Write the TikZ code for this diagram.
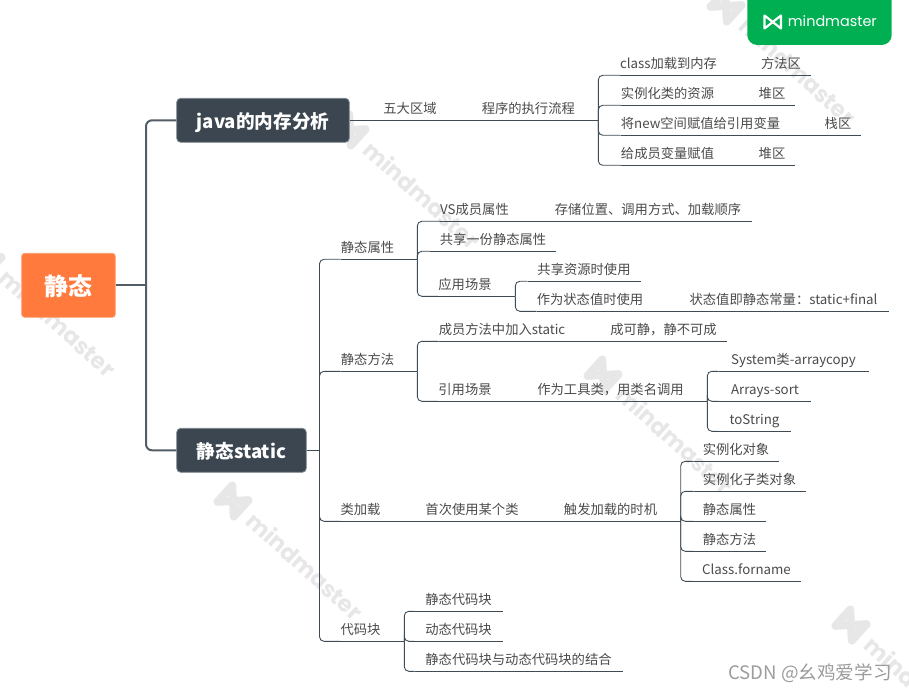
\documentclass[tikz,border=0pt]{standalone}
\usepackage{fontspec}
\setmainfont{Noto Sans CJK SC}
\newfontfamily\brandfont{Poppins}
\usepackage{tikz}
\usetikzlibrary{positioning}

\definecolor{inkline}{HTML}{3F4B55}
\definecolor{inktext}{HTML}{4A4A4A}
\definecolor{boxfill}{HTML}{3C4650}
\definecolor{boxedge}{HTML}{7F888F}
\definecolor{rootfill}{HTML}{FF7A3C}
\definecolor{rootedge}{HTML}{FF9D70}
\definecolor{badgefill}{HTML}{00AF52}
\definecolor{wmgray}{HTML}{E7E7E7}
\definecolor{csdngray}{HTML}{9C9C9C}

\begin{document}
\begin{tikzpicture}[x=1pt, y=-1pt,
        rootbox/.style={rectangle, draw=rootedge, fill=rootfill, rounded corners=3pt, line width=0.8pt, minimum width=93.6, minimum height=64, text height=24pt, text depth=3pt, text=white, font=\fontsize{24}{28}\selectfont\bfseries},
        mainbox/.style={rectangle, draw=boxedge, fill=boxfill, rounded corners=4pt, line width=0.8pt, minimum height=44, text height=19pt, text depth=3pt, text=white, font=\fontsize{18.6}{22}\selectfont\bfseries},
        link/.style={draw=inkline, line width=0.9pt},
        bracket/.style={link, rounded corners=4.5pt},
        spine/.style={draw=inkline!90!white, line width=2pt, rounded corners=6pt},
        topic/.style={anchor=south, inner xsep=0pt, inner ysep=4pt, text height=11pt, text depth=3pt, text=inktext, font=\fontsize{13.3}{16}\selectfont,
            append after command={(\tikzlastnode.south west) edge[link] (\tikzlastnode.south east)}},
        wmark/.pic={
            \draw[wmgray, line width=8pt, line join=round, line cap=round] (-11,11) -- (-11,-11) -- (11,11) -- (11,-11) -- cycle;
            \node[transform shape, anchor=west, inner sep=0pt, text=wmgray, font=\brandfont\bfseries\fontsize{22.8}{26}\selectfont] (#1) at (23,0) {mindmaster};
        }]
        \useasboundingbox (0,0) rectangle (909,692);

        % Watermarks and badge
        \begin{scope}
            \clip (0,0) rectangle (909,692);
            \pic[rotate=-42] at (726,6) {wmark=wma};
            \pic[rotate=-42] at (350,130) {wmark=wmb};
            \pic[rotate=-42] at (-14,258) {wmark=wmc};
            \pic[rotate=-42] at (233,501) {wmark=wmd};
            \pic[rotate=-42] at (603,375) {wmark=wme};
            \pic[rotate=-42] at (851,625) {wmark=wmf};
            \node[rectangle, fill=badgefill, rounded corners=10pt, minimum width=144.4, minimum height=65] (badge) at (819.5,12.5) {};
        \end{scope}
        \draw[white, line width=2.2pt, line join=round, line cap=round] (764.5,28.5) -- (764.5,15.5) -- (781,28.5) -- (781,15.5) -- cycle;
        \node[anchor=west, inner sep=0pt, text=white, font=\brandfont\fontsize{14.4}{18}\selectfont] (brand) at (787.7,21.5) {mindmaster};
        \node[text=csdngray, font=\fontsize{18.6}{22}\selectfont] (csdn) at (810,673) {CSDN @幺鸡爱学习};

        % Root and main topics
        \node[rootbox] (root) at (68.5,285.3) {静态};
        \node[mainbox, minimum width=172.6] (java) at (263,120.3) {java的内存分析};
        \node[mainbox, minimum width=129.6] (jingtai) at (241.5,450.3) {静态static};
        \coordinate (hub) at (146,285.3);
        \draw[spine] (java.west) -| (hub) |- (jingtai.west);
        \draw[spine, line width=2.4pt] (root.east) -- (hub);

        % java branch
        \node[topic] (wuda) at (410,120.3) {五大区域};
        \node[topic] (liucheng) at (528.3,120.3) {程序的执行流程};
        \coordinate (lchub) at (598.3,120.3);
        \node[topic] (classjz) at (668.5,75.3) {class加载到内存};
        \node[topic, minimum width=59.4] (fangfa) at (781,75.3) {方法区};
        \node[topic] (shili) at (667.5,105.3) {实例化类的资源};
        \node[topic, minimum width=44.6] (duia) at (772,105.3) {堆区};
        \node[topic] (jiang) at (700.5,135.3) {将new空间赋值给引用变量};
        \node[topic, minimum width=45.4] (zhan) at (838,135.3) {栈区};
        \node[topic] (gei) at (667.5,165.3) {给成员变量赋值};
        \node[topic, minimum width=44.6] (duib) at (772,165.3) {堆区};

        \draw[link] (java.east) -- (wuda.south west);
        \draw[link] (wuda.south east) -- (liucheng.south west);
        \draw[link] (liucheng.south east) -- (lchub);
        \draw[bracket] (lchub) |- (classjz.south west);
        \draw[bracket] (lchub) |- (shili.south west);
        \draw[bracket] (lchub) |- (jiang.south west);
        \draw[bracket] (lchub) |- (gei.south west);
        \draw[link] (classjz.south east) -- (fangfa.south west);
        \draw[link] (shili.south east) -- (duia.south west);
        \draw[link] (jiang.south east) -- (zhan.south west);
        \draw[link] (gei.south east) -- (duib.south west);

        % static branch, second level
        \coordinate (trunk) at (319.5,450.3);
        \node[topic] (sxing) at (367.5,259.3) {静态属性};
        \node[topic] (sfang) at (367.5,371.3) {静态方法};
        \node[topic] (ljz) at (360.5,521.3) {类加载};
        \node[topic] (dmk) at (360.5,641.3) {代码块};
        \draw[link] (jingtai.east) -- (trunk);
        \draw[bracket] (trunk) |- (sxing.south west);
        \draw[bracket] (trunk) |- (sfang.south west);
        \draw[bracket] (trunk) |- (ljz.south west);
        \draw[bracket] (trunk) |- (dmk.south west);

        % static attributes
        \coordinate (sxhub) at (417.3,259.3);
        \node[topic] (vs) at (474.5,221.3) {VS成员属性};
        \node[topic, minimum width=207.4] (cunchu) at (648,221.3) {存储位置、调用方式、加载顺序};
        \node[topic, minimum width=125.4] (gongxiang) at (493,251.3) {共享一份静态属性};
        \node[topic] (yingyong) at (465,296.3) {应用场景};
        \coordinate (yyhub) at (515.3,296.3);
        \node[topic, minimum width=112.6] (gxzy) at (584,281.3) {共享资源时使用};
        \node[topic] (ztshi) at (590,311.3) {作为状态值时使用};
        \node[topic, minimum width=209.6] (ztzhi) at (783.5,311.3) {状态值即静态常量：static+final};
        \draw[link] (sxing.south east) -- (sxhub);
        \draw[bracket] (sxhub) |- (vs.south west);
        \draw[bracket] (sxhub) |- (gongxiang.south west);
        \draw[bracket] (sxhub) |- (yingyong.south west);
        \draw[link] (vs.south east) -- (cunchu.south west);
        \draw[link] (yingyong.south east) -- (yyhub);
        \draw[bracket] (yyhub) |- (gxzy.south west);
        \draw[bracket] (yyhub) |- (ztshi.south west);
        \draw[link] (ztshi.south east) -- (ztzhi.south west);

        % static methods
        \coordinate (sfhub) at (417.3,371.3);
        \node[topic] (cyff) at (502,341.3) {成员方法中加入static};
        \node[topic, minimum width=126.4] (keke) at (663.5,341.3) {成可静，静不可成};
        \node[topic] (yycj) at (465,401.3) {引用场景};
        \node[topic] (gongju) at (610.5,401.3) {作为工具类，用类名调用};
        \coordinate (gjhub) at (707.3,401.3);
        \node[topic, minimum width=149.6] (system) at (793.5,371.3) {System类-arraycopy};
        \node[topic, minimum width=91.4] (arrays) at (765,401.3) {Arrays-sort};
        \node[topic, minimum width=72.4] (tostr) at (754.5,431.3) {toString};
        \draw[link] (sfang.south east) -- (sfhub);
        \draw[bracket] (sfhub) |- (cyff.south west);
        \draw[bracket] (sfhub) |- (yycj.south west);
        \draw[link] (cyff.south east) -- (keke.south west);
        \draw[link] (yycj.south east) -- (gongju.south west);
        \draw[link] (gongju.south east) -- (gjhub);
        \draw[bracket] (gjhub) |- (system.south west);
        \draw[bracket] (gjhub) |- (arrays.south west);
        \draw[bracket] (gjhub) |- (tostr.south west);

        % class loading
        \node[topic] (shouci) at (472,521.3) {首次使用某个类};
        \node[topic] (chufa) at (610.5,521.3) {触发加载的时机};
        \coordinate (cfhub) at (680.7,521.3);
        \node[topic, minimum width=84.6] (slx) at (736,461.3) {实例化对象};
        \node[topic, minimum width=111.6] (slzl) at (749.5,491.3) {实例化子类对象};
        \node[topic, minimum width=72.4] (jtsx) at (729.5,521.3) {静态属性};
        \node[topic, minimum width=72.4] (jtff) at (729.5,551.3) {静态方法};
        \node[topic, minimum width=108.4] (forname) at (746.5,581.3) {Class.forname};
        \draw[link] (ljz.south east) -- (shouci.south west);
        \draw[link] (shouci.south east) -- (chufa.south west);
        \draw[link] (chufa.south east) -- (cfhub);
        \draw[bracket] (cfhub) |- (slx.south west);
        \draw[bracket] (cfhub) |- (slzl.south west);
        \draw[bracket] (cfhub) |- (jtsx.south west);
        \draw[bracket] (cfhub) |- (jtff.south west);
        \draw[bracket] (cfhub) |- (forname.south west);

        % code blocks
        \coordinate (dmhub) at (404.3,641.3);
        \node[topic, minimum width=88.4] (jtk) at (458.5,611.3) {静态代码块};
        \node[topic, minimum width=88.4] (dtk) at (458.5,641.3) {动态代码块};
        \node[topic, minimum width=207.6] (jiehe) at (518.5,671.3) {静态代码块与动态代码块的结合};
        \draw[link] (dmk.south east) -- (dmhub);
        \draw[bracket] (dmhub) |- (jtk.south west);
        \draw[bracket] (dmhub) |- (dtk.south west);
        \draw[bracket] (dmhub) |- (jiehe.south west);
\end{tikzpicture}
\end{document}
